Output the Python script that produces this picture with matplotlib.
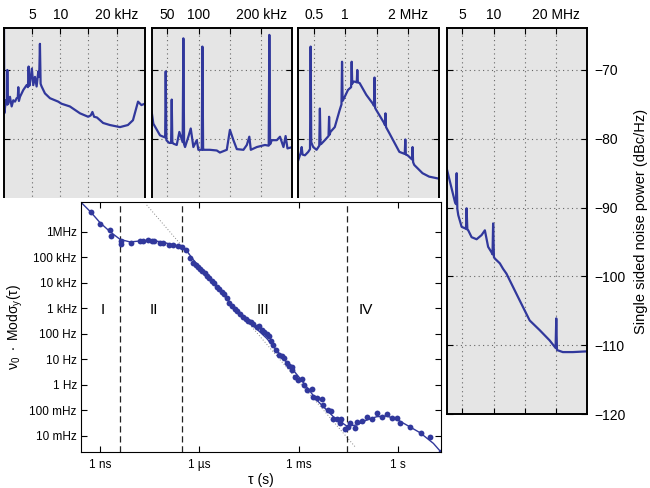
import numpy as np
import matplotlib.pyplot as plt
from matplotlib.patches import Rectangle

plt.rcParams['font.family'] = ['Liberation Sans', 'DejaVu Sans']
plt.rcParams['mathtext.fontset'] = 'custom'
plt.rcParams['mathtext.rm'] = 'Liberation Sans'
plt.rcParams['mathtext.it'] = 'Liberation Sans:italic'
plt.rcParams['mathtext.sf'] = 'Liberation Sans'

BLUE = '#31389c'

# ---- noise spectra, four linear frequency windows ----
f1_khz = [0.0, 0.05, 0.35, 0.55, 0.59, 0.65, 0.77, 1.06, 1.36, 1.65, 1.95, 2.25, 2.45, 2.54, 2.65,
          2.84, 3.43, 4.02, 4.25, 4.37, 4.5, 4.61, 4.95, 5.2, 5.5, 5.79, 6.09, 6.25, 6.38, 6.5,
          6.68, 7.27, 8.16, 9.63, 10.2, 11.7, 13.5, 14.95, 15.4, 15.7, 16.0, 16.5, 17.6, 18.8,
          20.6, 22.0, 22.9, 23.8, 24.4, 25.0]
p1_db = [-63.0, -76.3, -74.4, -75.0, -70.0, -75.0, -74.9, -73.9, -75.3, -74.4, -74.6, -74.1, -74.0,
         -72.5, -74.5, -73.9, -72.9, -72.2, -72.5, -69.5, -72.3, -71.9, -69.8, -72.2, -71.0, -72.4,
         -70.2, -71.0, -66.2, -72.0, -72.4, -73.4, -74.1, -74.6, -74.9, -75.3, -76.3, -76.8, -76.6,
         -76.1, -76.8, -76.9, -77.7, -78.0, -78.3, -78.0, -77.3, -74.6, -75.1, -74.9]

f2_khz = [25, 27.6, 38.3, 43.6, 46.5, 47.4, 48.5, 50.6, 53, 56, 57, 58, 59.6, 65, 69.2, 74.5, 75.6,
          76.8, 78.3, 83.6, 87.4, 91.6, 97, 99.6, 105, 106, 107.2, 108.7, 118, 129, 134, 145, 150,
          155.6, 161, 171.6, 177, 181, 183.4, 193, 206, 212, 213, 214.2, 217, 225, 230, 235.6, 239,
          242, 250]
p2_db = [-76.1, -77.8, -79.5, -79.7, -79.8, -70.2, -80.2, -80.4, -80.6, -80.6, -74.3, -80.5, -80.7,
         -80.9, -79.0, -80.5, -65.4, -80.8, -81.2, -79.7, -78.5, -81.2, -80.2, -81.6, -81.6, -66.6,
         -81.6, -81.6, -81.6, -81.7, -82.0, -81.6, -78.7, -80.2, -81.5, -81.6, -80.9, -79.7, -81.6,
         -81.2, -80.9, -81.0, -64.9, -80.8, -80.2, -80.2, -79.7, -81.2, -79.6, -81.4, -81.2]

f3_mhz = [0.250, 0.290, 0.304, 0.318, 0.356, 0.409, 0.437, 0.447, 0.457, 0.488, 0.542, 0.585, 0.595,
          0.605, 0.622, 0.674, 0.733, 0.742, 0.751, 0.764, 0.833, 0.912, 0.940, 0.949, 0.958, 0.992,
          1.044, 1.094, 1.103, 1.112, 1.123, 1.155, 1.184, 1.193, 1.202, 1.230, 1.336, 1.441, 1.459,
          1.468, 1.477, 1.495, 1.627, 1.634, 1.643, 1.652, 1.706, 1.865, 1.951, 1.960, 1.969, 1.997,
          2.067, 2.076, 2.085, 2.103, 2.235, 2.341, 2.500]
p3_db = [-83.1, -82.0, -81.2, -82.3, -82.4, -81.9, -81.5, -66.6, -80.5, -81.2, -81.6, -81.0, -75.6,
         -80.8, -80.7, -80.2, -79.6, -76.8, -79.4, -79.0, -78.3, -75.8, -75.0, -68.8, -74.5, -73.9,
         -72.9, -72.5, -68.8, -72.0, -71.7, -71.7, -71.8, -70.0, -71.8, -71.9, -73.6, -74.9, -75.2,
         -71.1, -75.5, -75.8, -77.8, -78.0, -76.3, -78.3, -79.2, -81.9, -82.2, -80.1, -82.3, -82.4,
         -83.0, -81.2, -83.4, -83.8, -85.0, -85.5, -85.8]

f4_mhz = [2.5, 3.82, 3.98, 4.09, 4.2, 4.35, 4.89, 5.41, 5.58, 5.68, 5.80, 5.94, 6.48, 7.28, 8.07,
          8.60, 9.12, 9.66, 9.82, 9.92, 10.05, 10.19, 10.99, 11.51, 12.05, 14.17, 15.76, 17.35,
          18.95, 19.9, 20.01, 20.12, 21.06, 22.65, 24.8, 25.0]
p4_db = [-84.3, -89.2, -89.5, -85.0, -90.2, -91.1, -92.8, -93.0, -93.1, -90.1, -93.2, -93.3, -94.3,
         -94.6, -94.0, -93.3, -95.7, -96.5, -96.8, -92.3, -97.2, -97.4, -98.1, -98.9, -99.6, -103.5,
         -106.4, -107.8, -109.3, -110.4, -106.1, -110.7, -111.0, -111.0, -110.9, -110.9]

# ---- modified Allan deviation (log10 of tau in s, log10 of nu0*Mod sigma in Hz) ----
pt_log_tau = [-9.282, -9.0, -8.688, -8.668, -8.376, -8.376, -8.074, -7.792, -7.711, -7.540, -7.439,
              -7.369, -7.187, -7.087, -6.905, -6.784, -6.654, -6.533, -6.402, -6.281, -6.180, -6.100,
              -6.029, -5.979, -5.908, -5.828, -5.777, -5.697, -5.626, -5.556, -5.475, -5.395, -5.324,
              -5.254, -5.173, -5.093, -5.022, -4.921, -4.851, -4.770, -4.690, -4.589, -4.519, -4.448,
              -4.368, -4.267, -4.186, -4.116, -4.045, -3.965, -3.884, -3.844, -3.763, -3.683, -3.582,
              -3.512, -3.441, -3.361, -3.280, -3.210, -3.190, -3.109, -3.008, -2.907, -2.837, -2.736,
              -2.605, -2.555, -2.434, -2.303, -2.253, -2.102, -2.021, -1.951, -1.850, -1.729, -1.749,
              -1.598, -1.497, -1.447, -1.296, -1.225, -1.095, -0.944, -0.793, -0.621, -0.490, -0.339,
              -0.189, -0.017, 0.064, 0.366, 0.688, 0.970, 1.292]
pt_log_dev = [6.758, 6.314, 6.065, 5.830, 5.634, 5.503, 5.542, 5.634, 5.647, 5.673, 5.647, 5.647, 5.569,
              5.542, 5.464, 5.464, 5.438, 5.386, 5.268, 4.967, 4.784, 4.680, 4.601, 4.523, 4.458, 4.366,
              4.275, 4.170, 4.078, 3.974, 3.843, 3.739, 3.634, 3.542, 3.412, 3.190, 3.085, 2.954, 2.902,
              2.758, 2.641, 2.562, 2.510, 2.471, 2.379, 2.275, 2.301, 2.144, 2.078, 1.974, 1.922, 1.725,
              1.556, 1.359, 1.163, 1.137, 1.033, 0.837, 0.732, 0.680, 0.575, 0.314, 0.183, 0.209, -0.013,
              -0.209, -0.183, -0.497, -0.536, -0.575, -0.797, -0.993, -1.033, -1.359, -1.359, -1.333,
              -1.516, -1.752, -1.673, -1.516, -1.686, -1.451, -1.412, -1.255, -1.333, -1.098, -1.281,
              -1.150, -1.320, -1.320, -1.516, -1.673, -1.882, -2.065, -2.627]

fit_log_tau = [-9.574, -9.282, -9.0, -8.698, -8.396, -8.094, -7.792, -7.489, -7.187, -6.885, -6.583,
               -6.382, -6.231, -5.979, -5.475, -4.972, -4.468, -3.965, -3.461, -2.957, -2.453, -1.951,
               -1.548, -1.246, -0.944, -0.642, -0.339, -0.037, 0.265, 0.668, 1.071, 1.292]
fit_log_dev = [7.150, 6.771, 6.353, 6.0, 5.699, 5.595, 5.634, 5.660, 5.608, 5.516, 5.412, 5.255, 4.980,
               4.562, 3.843, 3.059, 2.431, 1.817, 1.033, 0.248, -0.601, -1.255, -1.621, -1.582, -1.386,
               -1.255, -1.229, -1.359, -1.582, -1.882, -2.301, -2.627]

slope_log_tau = [-7.590, -1.296]
slope_log_dev = [7.046, -2.431]

region_bounds = [4.0e-9, 2.9e-7, 2.8e-2]
region_names = ['I', 'II', 'III', 'IV']
region_log_tau = [-8.919, -7.369, -4.065, -0.967]

fig = plt.figure(figsize=(6.5, 4.88), dpi=100)

windows = [
    (f1_khz, p1_db, (0, 25), [5, 10, 15, 20], ['5', '10', '', '20 kHz']),
    (f2_khz, p2_db, (25, 250), [50, 100, 150, 200], ['50', '100', '', '200 kHz']),
    (f3_mhz, p3_db, (0.25, 2.5), [0.5, 1.0, 1.5, 2.0], ['0.5', '1', '', '2 MHz']),
    (f4_mhz, p4_db, (2.5, 25), [5, 10, 15, 20], ['5', '10', '', '20 MHz']),
]
lefts = [4 / 650, 151.7 / 650, 298.3 / 650, 446.7 / 650]

for i, (f, p, lim, ticks, labels) in enumerate(windows):
    ax = fig.add_axes([lefts[i], 0.1516, 0.2166, 0.7910])
    ax.set_facecolor('#e5e5e5')
    ax.plot(f, p, color=BLUE, lw=1.6)
    ax.set_xlim(lim)
    ax.set_ylim(-120, -63.9)
    ax.set_xticks(ticks)
    ax.set_xticklabels(labels)
    ax.set_yticks([-120, -110, -100, -90, -80, -70])
    ax.grid(True, ls=(0, (1, 3)), color='#666666', lw=0.8)
    ax.tick_params(direction='in', top=True, bottom=True, left=True, right=True,
                   labeltop=True, labelbottom=False, labelleft=False,
                   labelright=(i == 3), length=4, labelsize=10, pad=4)
    ax.tick_params(axis='y', pad=5)
    for s in ax.spines.values():
        s.set_linewidth(1.4)

fig.text(641 / 650, 1 - 221 / 488, 'Single sided noise power (dBc/Hz)', rotation=90,
         ha='center', va='center', fontsize=10.5)

# white backing of the inset plot hides the lower part of the first three windows
fig.add_artist(Rectangle((0, 0), 444 / 650, 0.595, transform=fig.transFigure,
                         facecolor='white', edgecolor='none', zorder=1))

ax = fig.add_axes([81 / 650, 1 - 451.7 / 488, 359.7 / 650, 249.4 / 488], zorder=2)
ax.set_xscale('log')
ax.set_yscale('log')
ax.plot(10 ** np.array(slope_log_tau), 10 ** np.array(slope_log_dev), ls=(0, (1, 2)), color='#888888', lw=0.7)
for t in region_bounds:
    ax.axvline(t, color='#222222', ls=(0, (5, 3)), lw=0.9)
ax.plot(10 ** np.array(fit_log_tau), 10 ** np.array(fit_log_dev), color=BLUE, lw=1)
ax.plot(10 ** np.array(pt_log_tau), 10 ** np.array(pt_log_dev), 'o', color=BLUE, ms=4.2, mec='none')
for name, lt in zip(region_names, region_log_tau):
    ax.text(10 ** lt, 10 ** 2.93, name, ha='center', va='center', fontsize=11)

ax.set_xlim(10 ** -9.574, 10 ** 1.292)
ax.set_ylim(10 ** -2.627, 10 ** 7.150)
ax.minorticks_off()
ax.set_xticks([1e-9, 1e-6, 1e-3, 1])
ax.set_xticklabels(['1 ns', '1 µs', '1 ms', '1 s'])
ax.set_yticks([1e-2, 1e-1, 1, 1e1, 1e2, 1e3, 1e4, 1e5, 1e6])
ax.set_yticklabels(['10 mHz', '100 mHz', '1 Hz', '10 Hz', '100 Hz', '1 kHz', '10 kHz', '100 kHz', '1MHz'])
ax.tick_params(direction='in', top=True, right=True, length=4, labelsize=8.5)
ax.tick_params(axis='x', pad=5)
ax.tick_params(axis='y', pad=3)
ax.set_xlabel('τ (s)', fontsize=10, labelpad=2)
ax.set_ylabel(r'$\mathregular{\nu_0\ \cdot\ Mod\sigma_y(\tau)}$', fontsize=10, labelpad=3)

fig.savefig('out.png', dpi=100)
